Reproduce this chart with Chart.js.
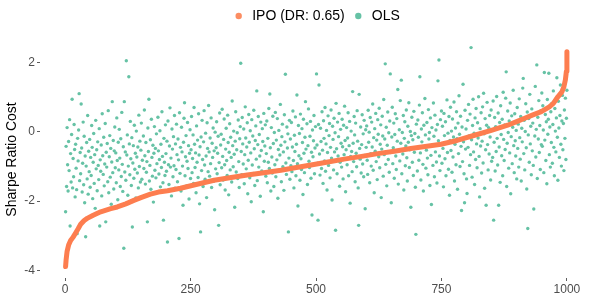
<!DOCTYPE html>
<html><head><meta charset="utf-8">
<script src="https://cdn.jsdelivr.net/npm/chart.js@4/dist/chart.umd.min.js"></script>
<style>html,body{margin:0;padding:0;background:#fff;}#wrap{width:598px;height:299px;}</style>
</head><body><div id="wrap"><canvas id="c" width="598" height="299"></canvas></div>
<script>
const xTicks = [0, 250, 500, 750, 1000];
const yTicks = [-4, -2, 0, 2];
const seriesNames = ['IPO (DR: 0.65)', 'OLS'];

const ipoIndex = [1,2,4,7,11,16,21,26,31,38,44,56,71,91,104,121,137,151,170,186,
  204,230,261,297,331,363,396,430,461,490,521,556,591,623,656,689,721,749,781,816,
  851,882,901,916,931,949,965,973,982,990,994,997,999,1000];
const ipoValues = [-3.89,-3.7,-3.45,-3.27,-3.14,-3.04,-2.92,-2.8,-2.67,-2.56,
  -2.5,-2.41,-2.31,-2.22,-2.17,-2.08,-1.98,-1.9,-1.8,-1.74,
  -1.7,-1.63,-1.52,-1.40,-1.32,-1.25,-1.18,-1.11,-1.03,-0.96,
  -0.88,-0.79,-0.71,-0.63,-0.56,-0.48,-0.42,-0.36,-0.25,-0.10,
  0.05,0.19,0.30,0.39,0.48,0.58,0.72,0.82,1.01,1.15,
  1.30,1.5,1.75,2.31];

const olsValues = [
-2.31,-0.42,-1.58,0.12,-0.95,-1.71,-0.28,-1.12,0.35,-2.72,
-0.63,-1.45,-0.08,0.94,-1.62,-0.77,-1.30,0.21,-0.51,-1.88,
-0.36,-1.05,-1.67,-2.94,-0.19,-0.84,0.05,1.10,-1.41,-0.60,
-1.21,0.80,-0.47,-1.74,-0.91,0.28,-1.53,-0.13,-2.05,-0.70,
-3.03,-0.99,-0.31,-1.36,0.47,-1.80,-0.56,-1.15,-0.22,-1.60,
-0.74,-1.26,0.18,-0.45,-1.93,-0.88,-0.05,-1.49,-0.66,-2.21,
0.33,-1.07,-0.52,-1.70,-0.29,-0.97,-1.38,0.09,-2.72,-0.81,
-1.14,-0.38,-1.85,0.52,-0.69,-1.23,-0.16,-1.56,-0.93,0.24,
-2.60,-0.59,-1.02,-0.34,-1.44,0.61,-1.76,-0.72,-0.11,-1.31,
-0.48,-2.09,-0.87,0.87,-1.18,-0.25,-1.65,-0.55,0.14,-1.04,
-0.61,-1.47,0.40,-0.83,-1.96,-0.30,-1.10,0.07,-0.76,-1.58,
-0.20,-1.29,0.56,-0.94,-1.72,-0.43,-3.36,0.87,-1.16,-0.58,
-1.40,2.05,-0.67,-0.09,-1.83,-0.99,1.59,-0.35,-1.24,0.30,
-0.78,-1.55,-0.17,-2.75,-0.90,-0.40,-1.34,0.19,-1.08,-0.62,
-1.91,0.02,-0.73,-1.19,-0.44,-1.62,0.48,-1.00,-0.27,-1.45,
-0.53,0.25,-1.37,-0.82,-1.88,-0.12,-1.06,0.63,-0.69,-1.51,
-0.31,-1.17,-0.86,-2.60,0.11,-0.57,0.94,-1.42,-0.97,-0.23,
-1.66,0.36,-0.74,-1.28,-0.39,-2.03,-0.62,0.15,-1.11,-0.48,
-1.33,-0.06,-0.92,-1.74,0.42,-0.55,-1.22,-0.80,0.03,-1.59,
-0.36,-1.03,0.58,-0.71,-1.47,-2.55,-0.19,-0.88,-1.26,0.20,
-0.63,-1.14,-0.27,-3.18,0.31,-0.95,-1.52,-0.41,0.69,-1.02,
-0.76,-1.85,0.08,-0.50,-1.30,-0.14,-0.98,0.47,-1.63,-0.35,
-1.09,0.22,-0.66,-1.44,-0.21,-0.81,-3.08,0.55,-1.20,-0.45,
-1.71,0.13,-0.58,-0.99,-2.12,-0.30,0.39,0.84,-1.27,-0.72,
-0.11,-1.56,-0.85,0.27,-1.06,-0.40,-1.94,-0.62,0.06,-1.35,
-0.52,0.44,-1.18,-0.77,-0.09,-1.49,0.70,-0.36,-1.03,-0.61,
-1.76,0.17,-0.88,-0.24,-1.32,0.52,-0.67,-2.08,-0.43,-2.89,
-0.15,-1.12,0.33,-0.80,-1.58,-0.29,0.61,-0.96,-1.37,-0.04,
-0.70,-1.90,0.26,-0.48,-1.15,0.76,-0.58,-1.28,-0.18,-0.92,
0.40,-1.61,-0.33,-0.74,0.11,-1.43,-0.55,-2.25,-0.01,-1.07,
-0.46,0.29,-1.21,-0.62,-0.13,-2.70,-0.89,0.54,-1.53,-0.38,
-0.07,-1.04,0.65,-0.71,-1.39,-0.22,0.37,-0.95,-1.68,-0.50,
0.10,-0.83,-1.26,0.48,-0.31,-1.82,-0.59,0.23,-1.10,-0.16,
-0.74,-1.45,0.89,-0.40,-1.01,0.02,-0.65,-2.18,-0.27,0.58,
-1.16,-0.52,-0.03,-1.35,0.34,-0.86,-1.61,-0.20,0.15,1.98,
-0.57,-1.24,0.41,-0.35,-0.93,0.08,-1.50,-0.66,0.72,-0.18,
-1.07,-0.44,0.26,-1.79,-0.82,0.50,-0.30,-1.33,0.03,-0.61,
-2.02,0.35,-0.96,-0.12,-1.20,0.62,-0.49,-1.55,-0.25,0.17,
-0.79,1.18,-1.41,-0.37,0.44,-1.02,-0.08,-0.70,-1.86,0.28,
-0.54,-1.13,0.09,-0.28,-2.31,0.53,-0.85,-0.41,0.20,-1.28,
-0.63,0.31,-1.47,-0.19,-0.88,0.67,-1.06,1.09,-0.46,-1.71,
0.12,-0.73,-1.19,0.45,-0.34,-1.58,-0.02,-0.95,0.56,-1.30,
-0.24,-0.81,0.38,-1.92,-0.51,0.04,-1.12,-0.67,0.79,-0.39,
-1.44,-0.14,0.22,-1.01,-0.58,-1.69,0.49,-0.29,1.66,-0.90,
-1.23,0.14,-0.47,-0.06,-2.89,-0.76,0.33,-1.37,-0.21,-0.98,
0.27,-1.15,-0.44,0.60,-0.83,-1.62,-0.10,-0.57,0.43,-1.27,
-0.36,1.06,-0.92,-2.14,0.18,-0.69,-0.05,-1.40,0.51,-0.78,
-1.09,0.09,-0.31,-1.81,0.36,-0.62,-1.18,-0.16,0.87,-0.50,
-0.97,0.23,-1.52,-0.40,0.66,-0.85,-1.03,-0.13,0.30,-1.34,
-0.59,-2.40,0.05,-0.72,-0.26,0.47,-1.21,-0.47,0.15,-0.93,
1.67,-0.38,-0.91,-2.55,0.21,1.35,-0.64,-1.25,0.10,-0.28,
-1.06,0.58,-0.53,-1.49,0.32,-0.19,-0.84,0.70,-1.14,-0.35,
0.04,-1.68,-0.60,0.46,-0.97,-0.11,0.24,-1.33,-0.45,0.63,
-0.76,-1.97,0.16,-0.22,-1.10,0.39,-0.58,-0.03,-2.84,0.82,
-0.49,-1.21,0.28,-0.70,-0.14,0.53,-1.57,-0.88,0.07,-0.33,
-1.02,0.36,-0.43,-1.36,0.19,-0.66,0.74,-0.25,-1.73,-0.52,
0.12,-0.95,-0.18,0.55,-1.27,-0.40,0.30,-2.06,-0.71,0.02,
-0.57,-1.15,1.16,-0.33,-0.86,0.44,-0.09,-1.44,0.25,-0.62,
-1.01,0.61,-0.27,-1.62,-2.70,1.08,-0.48,-0.79,0.14,-1.19,
-0.37,0.49,-0.93,-0.06,-1.30,0.33,-0.68,-2.22,0.06,-0.45,
0.17,-0.82,-1.23,0.62,-0.30,-0.01,-1.47,0.41,-0.63,-0.99,
0.28,-0.44,0.80,-1.11,-0.17,-1.76,0.09,-0.56,0.53,-0.86,
-0.24,-1.38,0.35,-0.07,-0.72,0.68,-1.04,-0.36,0.20,-1.90,
-0.50,0.45,-0.12,-1.28,0.93,-0.66,-0.21,1.96,-0.94,0.13,
-1.56,-0.39,0.57,-0.80,-0.03,-1.17,0.31,1.67,-0.60,-2.05,
-0.15,0.71,-0.92,-0.46,0.25,-1.34,-0.08,0.52,-0.70,-1.09,
0.38,-0.27,1.22,-1.51,-0.55,0.06,-0.84,0.90,-0.33,1.49,
-1.21,-0.02,-0.64,0.47,-1.68,-0.19,0.29,-0.98,-0.41,0.63,
-0.75,-1.42,0.16,-0.30,0.84,-1.03,-0.52,0.01,-2.18,-0.11,
0.42,-0.88,-0.23,-1.26,0.59,-0.59,-0.05,-1.60,-2.96,0.22,
-0.47,-1.13,0.34,-0.16,-0.82,0.77,1.59,-0.61,-1.39,0.08,
-0.29,0.55,-0.94,-1.71,0.19,-0.44,0.96,-0.09,-1.05,-0.53,
0.27,-0.76,-1.24,0.64,-0.21,-0.02,-1.55,0.40,-0.68,-2.10,
0.12,-0.39,-0.97,0.83,-0.13,-1.30,0.48,-0.58,0.05,-0.87,
-1.48,0.21,1.47,-0.26,2.07,-0.70,-1.12,0.35,-0.35,0.60,
-0.91,0.16,-0.48,-1.59,0.53,-0.11,-0.78,0.29,-1.27,-0.32,
0.92,-0.60,-0.04,-1.08,0.44,-1.83,-0.25,0.71,-0.54,0.02,
-1.17,0.37,-0.73,-0.15,0.86,-1.42,-0.36,0.11,-0.95,0.58,
-0.20,-1.66,0.25,-0.63,1.04,-0.07,-1.00,0.45,-0.42,-2.27,
0.14,-0.86,1.37,-0.29,-1.21,-2.05,0.62,-0.50,0.08,-1.36,
-1.78,0.33,-0.45,0.79,-0.12,-0.97,0.51,-0.66,2.43,-0.23,
-1.31,0.18,0.94,-0.58,-0.04,-1.52,0.40,-0.80,0.67,-0.35,
-1.04,0.26,-0.18,1.01,-0.71,-1.88,0.09,-0.41,0.55,-1.19,
-0.27,0.72,-0.90,1.11,-0.06,-1.63,0.38,-0.52,-2.12,0.19,
0.85,-0.37,-1.10,0.12,-0.64,0.47,-0.15,-1.39,0.63,-0.85,
0.06,-0.74,0.89,-2.55,-0.30,0.41,-1.13,0.15,-0.57,1.02,
-0.19,-0.96,0.54,-2.12,-0.44,0.27,-1.46,0.75,-0.08,-0.69,
0.36,-1.27,1.14,-0.22,-0.83,0.20,-0.51,0.97,1.73,-1.58,
-0.33,0.60,-0.02,-1.05,0.31,-0.61,0.83,-1.79,-0.14,0.46,
-0.92,0.13,1.20,-0.40,-1.18,0.52,-0.26,-0.70,0.04,-1.36,
0.70,-0.48,0.22,-1.02,0.95,-0.17,-0.79,0.44,-1.42,0.10,
-0.29,1.26,1.54,-0.63,0.33,-1.10,0.01,0.81,-0.46,-1.65,
0.57,-2.79,-0.09,0.38,-0.88,1.08,-0.35,0.16,-1.24,0.66,
-0.55,0.25,-0.97,-2.23,0.49,-0.12,1.31,-0.73,0.07,1.93,
-1.35,0.42,-0.21,0.90,-0.60,0.18,-1.09,0.61,-0.37,1.12,
-0.42,0.75,0.05,-1.18,1.71,-0.24,0.50,-0.83,0.29,-1.50,
0.93,-0.07,0.36,1.69,-0.66,0.14,-1.02,0.58,-0.31,0.82,
-0.91,0.21,1.18,-0.45,-1.27,0.67,0.02,-0.58,0.40,1.56,
-0.16,-1.40,0.88,0.11,-0.74,0.47,1.35,-0.36,-0.99,0.31,
1.05,-0.52,0.24,-1.12,0.63,-0.19,0.97,-0.80,0.39,1.20
];

const IPO_COLOR = '#FD7D4F';
const IPO_KEY = '#FC8D62';
const OLS_COLOR = '#66C2A5';
const FONT = "'Liberation Sans', Arial, Helvetica, sans-serif";
Chart.defaults.font.family = FONT;

const legendFix = {
  id: 'legendFix',
  afterInit(chart) {
    const lg = chart.legend;
    if (!lg) return;
    const orig = lg.fit.bind(lg);
    lg.fit = function () { orig(); this.height = 39; };
  },
  afterLayout(chart) {
    const lg = chart.legend;
    if (!lg) return;
    // centre legend over the plotting panel, as in the reference
    const ca = chart.chartArea;
    const mid = (ca.left + ca.right) / 2;
    const half = Math.min(mid, chart.width - mid);
    lg.left = mid - half;
    lg.right = mid + half;
    lg.width = lg.right - lg.left;
    lg.adjustHitBoxes();
  }
};

const tickGrid = { display: true, drawOnChartArea: false, drawTicks: true, tickLength: 3, color: '#333333', lineWidth: 0.8 };

new Chart(document.getElementById('c'), {
  type: 'scatter',
  data: {
    datasets: [
      {
        label: seriesNames[0],
        data: ipoIndex.map((x, i) => ({ x: x, y: ipoValues[i] })),
        showLine: true,
        borderColor: IPO_COLOR,
        backgroundColor: IPO_COLOR,
        borderWidth: 5,
        borderCapStyle: 'round',
        borderJoinStyle: 'round',
        pointRadius: 0,
        tension: 0
      },
      {
        label: seriesNames[1],
        data: olsValues.map((y, i) => ({ x: i + 1, y: y })),
        showLine: false,
        backgroundColor: OLS_COLOR,
        borderColor: OLS_COLOR,
        borderWidth: 0,
        pointRadius: 1.7
      }
    ]
  },
  options: {
    responsive: false,
    animation: false,
    devicePixelRatio: 1,
    layout: { padding: { top: 2, left: 0, right: 6, bottom: 0 } },
    plugins: {
      tooltip: { enabled: false },
      legend: {
        position: 'top',
        align: 'center',
        labels: {
          usePointStyle: true,
          pointStyle: 'circle',
          boxWidth: 13,
          boxHeight: 4.5,
          padding: 7,
          color: '#000000',
          font: { size: 14, family: FONT },
          generateLabels(chart) {
            const items = Chart.defaults.plugins.legend.labels.generateLabels(chart);
            items.forEach((it, i) => {
              const c = i === 0 ? IPO_KEY : OLS_COLOR;
              it.fillStyle = c; it.strokeStyle = c; it.lineWidth = 0; it.pointStyle = 'circle';
            });
            return items;
          }
        }
      }
    },
    scales: {
      x: {
        type: 'linear',
        min: -50, max: 1050,
        afterBuildTicks: s => { s.ticks = xTicks.map(v => ({ value: v })); },
        afterFit: s => { s.height = 21; },
        ticks: { color: '#4D4D4D', font: { size: 12 }, padding: 1, maxRotation: 0, autoSkip: false,
                 callback: v => String(v) },
        grid: tickGrid,
        border: { display: false }
      },
      y: {
        type: 'linear',
        min: -4.22, max: 2.62,
        afterBuildTicks: s => { s.ticks = yTicks.map(v => ({ value: v })); },
        afterFit: s => { s.width = 40; },
        ticks: { color: '#4D4D4D', font: { size: 12 }, padding: 2, autoSkip: false,
                 callback: v => String(v) },
        grid: tickGrid,
        border: { display: false },
        title: { display: true, text: 'Sharpe Ratio Cost', color: '#000000', font: { size: 14 }, padding: { top: 4, bottom: 0 } }
      }
    }
  },
  plugins: [legendFix]
});
</script>
</body></html>
